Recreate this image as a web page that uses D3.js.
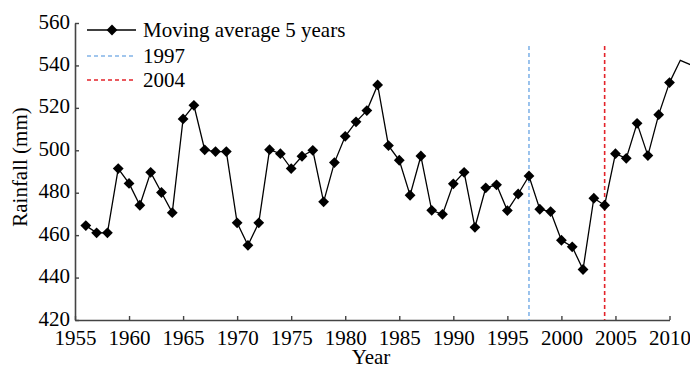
<!DOCTYPE html>
<html>
<head>
<meta charset="utf-8">
<script src="https://cdn.jsdelivr.net/npm/d3@7"></script>
<style>
  html, body { margin: 0; padding: 0; background: #fff; }
  svg { display: block; }
  text { font-family: "Liberation Serif", "Times New Roman", serif; fill: #000; }
</style>
</head>
<body>
<svg id="chart" width="690" height="369"></svg>
<script>
// Five-year moving average of annual rainfall (mm)
const years = [1956, 1957, 1958, 1959, 1960, 1961, 1962, 1963, 1964, 1965,
  1966, 1967, 1968, 1969, 1970, 1971, 1972, 1973, 1974, 1975,
  1976, 1977, 1978, 1979, 1980, 1981, 1982, 1983, 1984, 1985,
  1986, 1987, 1988, 1989, 1990, 1991, 1992, 1993, 1994, 1995,
  1996, 1997, 1998, 1999, 2000, 2001, 2002, 2003, 2004, 2005,
  2006, 2007, 2008, 2009, 2010];
const rainfall = [464.5, 461.1, 461.1, 491.4, 484.4, 474.1, 489.6, 480.1, 470.6, 514.8,
  521.2, 500.2, 499.4, 499.4, 465.8, 455.2, 465.8, 500.3, 498.4, 491.4,
  497.2, 500.0, 475.7, 494.2, 506.6, 513.4, 518.7, 530.8, 502.2, 495.3,
  478.8, 497.3, 471.7, 469.8, 484.2, 489.6, 463.7, 482.3, 483.7, 471.6,
  479.4, 487.9, 472.2, 471.1, 457.6, 454.5, 443.8, 477.4, 474.1, 498.4,
  496.2, 512.7, 497.5, 516.8, 531.9];
// Trailing part of the curve beyond the last labelled year (no markers)
const tailYears = [2010, 2011, 2012];
const tailValues = [531.9, 542.4, 540.2];

const yTicks = [420, 440, 460, 480, 500, 520, 540, 560];
const xTicks = [1955, 1960, 1965, 1970, 1975, 1980, 1985, 1990, 1995, 2000, 2005, 2010];
const changeYears = [1997, 2004];
const changeColors = ["#82b4e8", "#e3232a"];
const legendLabels = ["Moving average 5 years", "1997", "2004"];

const serif = '"Liberation Serif", "Times New Roman", serif';
const fontSize = 21;
const svg = d3.select("#chart");

const x = d3.scaleLinear().domain([1955, 2010]).range([75, 669.5]);
const y = d3.scaleLinear().domain([420, 560]).range([320, 23]);

const axisColor = "#444";

// y axis (ticks pointing into the plot)
const yAxis = svg.append("g")
  .attr("transform", `translate(${x(1955)},0)`)
  .call(d3.axisLeft(y).tickValues(yTicks).tickSizeInner(-4).tickSizeOuter(0).tickPadding(5));
// x axis
const xAxis = svg.append("g")
  .attr("transform", `translate(0,${y(420)})`)
  .call(d3.axisBottom(x).tickValues(xTicks).tickFormat(d3.format("d")).tickSizeInner(-4).tickSizeOuter(0).tickPadding(10));

[yAxis, xAxis].forEach(g => {
  g.attr("font-family", serif).attr("font-size", fontSize);
  g.select(".domain").attr("stroke", axisColor).attr("stroke-width", 1.6);
  g.selectAll(".tick line").attr("stroke", axisColor).attr("stroke-width", 1.4);
  g.selectAll(".tick text").attr("fill", "#000").style("font-family", serif);
});
yAxis.selectAll(".tick text").attr("dy", "0.24em");
xAxis.selectAll(".tick text").attr("dy", "0.72em");

// Axis titles
svg.append("text")
  .attr("x", 371).attr("y", 364)
  .attr("text-anchor", "middle")
  .attr("font-size", fontSize)
  .text("Year");
svg.append("text")
  .attr("transform", `translate(27,167) rotate(-90)`)
  .attr("text-anchor", "middle")
  .attr("font-size", fontSize)
  .text("Rainfall (mm)");

// Change-point markers
svg.selectAll("line.change")
  .data(changeYears)
  .join("line")
  .attr("class", "change")
  .attr("x1", d => x(d)).attr("x2", d => x(d))
  .attr("y1", 46).attr("y2", y(420))
  .attr("stroke", (d, i) => changeColors[i])
  .attr("stroke-width", 1.6)
  .attr("stroke-dasharray", "4,3");

// Main series
const line = d3.line().x((d, i) => x(years[i])).y(d => y(d));
svg.append("path")
  .datum(rainfall)
  .attr("fill", "none").attr("stroke", "#000").attr("stroke-width", 1.3)
  .attr("d", line);

const tailLine = d3.line().x((d, i) => x(tailYears[i])).y(d => y(d));
svg.append("path")
  .datum(tailValues)
  .attr("fill", "none").attr("stroke", "#000").attr("stroke-width", 1.3)
  .attr("d", tailLine);

const r = 5.4;
const diamond = `M0,${-r}L${r},0L0,${r}L${-r},0Z`;
svg.selectAll("path.pt")
  .data(rainfall)
  .join("path")
  .attr("class", "pt")
  .attr("transform", (d, i) => `translate(${x(years[i])},${y(d)})`)
  .attr("d", diamond)
  .attr("fill", "#000");

// Legend
const legend = svg.append("g");
const legendY = [30, 56, 80];
legendLabels.forEach((lab, i) => {
  const g = legend.append("g").attr("transform", `translate(0,${legendY[i]})`);
  if (i === 0) {
    g.append("line").attr("x1", 87).attr("x2", 136).attr("y1", 0).attr("y2", 0)
      .attr("stroke", "#000").attr("stroke-width", 1.3);
    g.append("path").attr("transform", "translate(112,0)").attr("d", diamond).attr("fill", "#000");
  } else {
    g.append("line").attr("x1", 87).attr("x2", 136).attr("y1", 0).attr("y2", 0)
      .attr("stroke", changeColors[i - 1]).attr("stroke-width", 1.6)
      .attr("stroke-dasharray", "4,3");
  }
  g.append("text").attr("x", 143).attr("y", 0).attr("dy", "0.33em")
    .attr("font-size", fontSize).text(lab);
});
</script>
</body>
</html>
